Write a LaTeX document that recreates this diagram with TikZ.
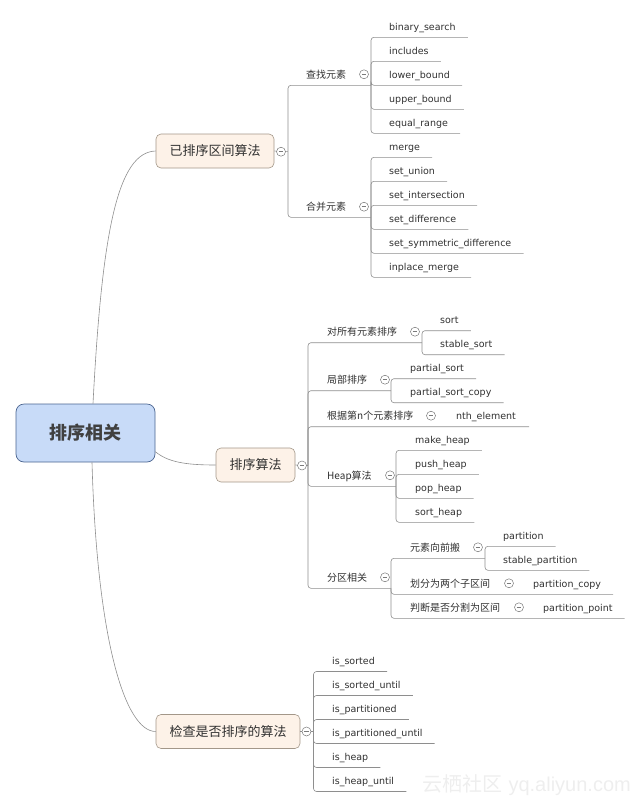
\documentclass[tikz,border=0pt]{standalone}
\usepackage{fontspec}
\setmainfont{DejaVu Sans}
\newfontfamily\cjk{Noto Sans CJK SC}
\newfontfamily\wmfont{Liberation Sans}
\usetikzlibrary{positioning}
\definecolor{branchgray}{HTML}{8E8E8E}
\definecolor{foldgray}{HTML}{7A7A7A}
\definecolor{textdark}{HTML}{303030}
\definecolor{boxfill}{HTML}{FDF2E8}
\definecolor{boxline}{HTML}{A39789}
\definecolor{rootfill}{HTML}{C8DBF8}
\definecolor{rootline}{HTML}{4A6490}
\definecolor{roottext}{HTML}{404040}
\definecolor{wmgray}{HTML}{EEEEEE}

\begin{document}
\begin{tikzpicture}[x=1pt, y=-1pt,
  link/.style={draw=branchgray, line width=0.6pt, rounded corners=3pt},
  branch/.style={draw=branchgray, line width=0.6pt},
  leaf/.style={anchor=south west, inner sep=0pt, text height=7pt, text depth=6.6pt, text=textdark, font=\fontsize{9.5}{11}\selectfont},
  topic/.style={leaf, font=\cjk\fontsize{10}{12}\selectfont},
  fold/.style={circle, draw=foldgray, fill=white, line width=0.5pt, minimum size=9pt, inner sep=0pt,
    path picture={\draw[foldgray, line width=0.5pt] ([xshift=2.2pt]path picture bounding box.west) -- ([xshift=-2.2pt]path picture bounding box.east);}},
  mainbox/.style={draw=boxline, fill=boxfill, line width=0.6pt, rounded corners=5pt, minimum height=34pt, inner xsep=13.5pt, text=textdark, font=\cjk\fontsize{13}{15}\selectfont},
  rootbox/.style={draw=rootline, fill=rootfill, line width=0.7pt, rounded corners=8pt, minimum width=139pt, minimum height=58pt, text=roottext, font=\cjk\bfseries\fontsize{18}{20}\selectfont}]

\useasboundingbox (0,0) rectangle (641,807);

% main topics
\node[rootbox] (root) at (85.5,433) {排序相关};
\node[mainbox] (sorted) at (215,151) {已排序区间算法};
\node[mainbox] (algo) at (255.5,465) {排序算法};
\node[mainbox] (check) at (228,731.5) {检查是否排序的算法};

\draw[branch] ([xshift=7.5pt]root.north) .. controls (102,230) and (118,152) .. (sorted.west);
\draw[branch] ([yshift=-18.7pt]root.east) .. controls (168,462) and (185,465) .. (algo.west);
\draw[branch] ([xshift=6.5pt]root.south) .. controls (97,640) and (125,731.5) .. (check.west);

% sorted ranges
\coordinate (j-sorted) at (288,151.7);
\draw[link] (sorted.east) -- (j-sorted);

\node[topic] (t-find) at (306,85.3) {查找元素};
\coordinate (j-find) at (371,85.3);
\draw[link] (j-sorted) |- (j-find);
\foreach \k/\lbl in {0/binary\_search,1/includes,2/lower\_bound,3/upper\_bound,4/equal\_range}
 {
  \node[leaf] (find-\k) at (389,37.3+24*\k) {\lbl};
  \draw[link] (j-find) |- ([xshift=12pt]find-\k.south east);
 }

\node[topic] (t-merge) at (306,217.3) {合并元素};
\coordinate (j-merge) at (371,217.3);
\draw[link] (j-sorted) |- (j-merge);
\foreach \k/\lbl in {0/merge,1/set\_union,2/set\_intersection,3/set\_difference,4/set\_symmetric\_difference,5/inplace\_merge}
 {
  \node[leaf] (merge-\k) at (389,157.3+24*\k) {\lbl};
  \draw[link] (j-merge) |- ([xshift=12pt]merge-\k.south east);
 }

% sorting
\coordinate (j-algo) at (308,465.5);
\draw[link] (algo.east) -- (j-algo);

\node[topic] (t-all) at (327,342.7) {对所有元素排序};
\coordinate (j-all) at (422,342.7);
\draw[link] (j-algo) |- (j-all);
\foreach \k/\lbl in {0/sort,1/stable\_sort}
 {
  \node[leaf] (all-\k) at (440,330.7+24*\k) {\lbl};
  \draw[link] (j-all) |- ([xshift=12pt]all-\k.south east);
 }

\node[topic] (t-part) at (327,390.7) {局部排序};
\coordinate (j-part) at (391,390.7);
\draw[link] (j-algo) |- (j-part);
\foreach \k/\lbl in {0/partial\_sort,1/partial\_sort\_copy}
 {
  \node[leaf] (part-\k) at (410,378.7+24*\k) {\lbl};
  \draw[link] (j-part) |- ([xshift=12pt]part-\k.south east);
 }

\node[topic] (t-nth) at (327,426.7) {根据第n个元素排序};
\node[leaf] (nth) at (456,426.7) {nth\_element};
\draw[link] (j-algo) |- ([xshift=13pt]nth.south east);

\node[topic] (t-heap) at (327,486.3) {Heap算法};
\coordinate (j-heap) at (396,486.3);
\draw[link] (j-algo) |- (j-heap);
\foreach \k/\lbl in {0/make\_heap,1/push\_heap,2/pop\_heap,3/sort\_heap}
 {
  \node[leaf] (heap-\k) at (415,450.3+24*\k) {\lbl};
  \draw[link] (j-heap) |- ([xshift=12pt]heap-\k.south east);
 }

\node[topic] (t-split) at (327,588.3) {分区相关};
\coordinate (j-split) at (391,588.3);
\draw[link] (j-algo) |- (j-split);

\node[topic] (t-move) at (410,558.3) {元素向前搬};
\coordinate (j-move) at (485,558.3);
\draw[link] (j-split) |- (j-move);
\foreach \k/\lbl in {0/partition,1/stable\_partition}
 {
  \node[leaf] (move-\k) at (503,546.3+24*\k) {\lbl};
  \draw[link] (j-move) |- ([xshift=12pt]move-\k.south east);
 }

\node[topic] (t-copy) at (410,594.3) {划分为两个子区间};
\node[leaf] (pcopy) at (533,594.3) {partition\_copy};
\draw[link] (j-split) |- ([xshift=12pt]pcopy.south east);

\node[topic] (t-point) at (410,618.3) {判断是否分割为区间};
\node[leaf] (ppoint) at (543,618.3) {partition\_point};
\draw[link] (j-split) |- ([xshift=12pt]ppoint.south east);

% checks
\coordinate (j-check) at (313.5,731.5);
\draw[link] (check.east) -- (j-check);
\foreach \k/\lbl in {0/is\_sorted,1/is\_sorted\_until,2/is\_partitioned,3/is\_partitioned\_until,4/is\_heap,5/is\_heap\_until}
 {
  \node[leaf] (chk-\k) at (332,671.5+24*\k) {\lbl};
  \draw[link] (j-check) |- ([xshift=12pt]chk-\k.south east);
 }

% fold markers
\foreach \name/\pos in {sorted/{281,151.7},find/{364,74.3},merge/{364,206.7},algo/{302,465.5},all/{415,331.7},part/{385,379.7},nth/{431,415.7},heap/{390,475.3},split/{385,577.3},move/{478,547.3},copy/{509,583.3},point/{519,607.3},check/{306.5,731.5}}
  \node[fold] (f-\name) at (\pos) {};

\node[text=wmgray, font=\wmfont\fontsize{20}{22}\selectfont, anchor=east, inner sep=0pt] (mark) at (631,785) {{\cjk 云栖社区} yq.aliyun.com};
\end{tikzpicture}
\end{document}
